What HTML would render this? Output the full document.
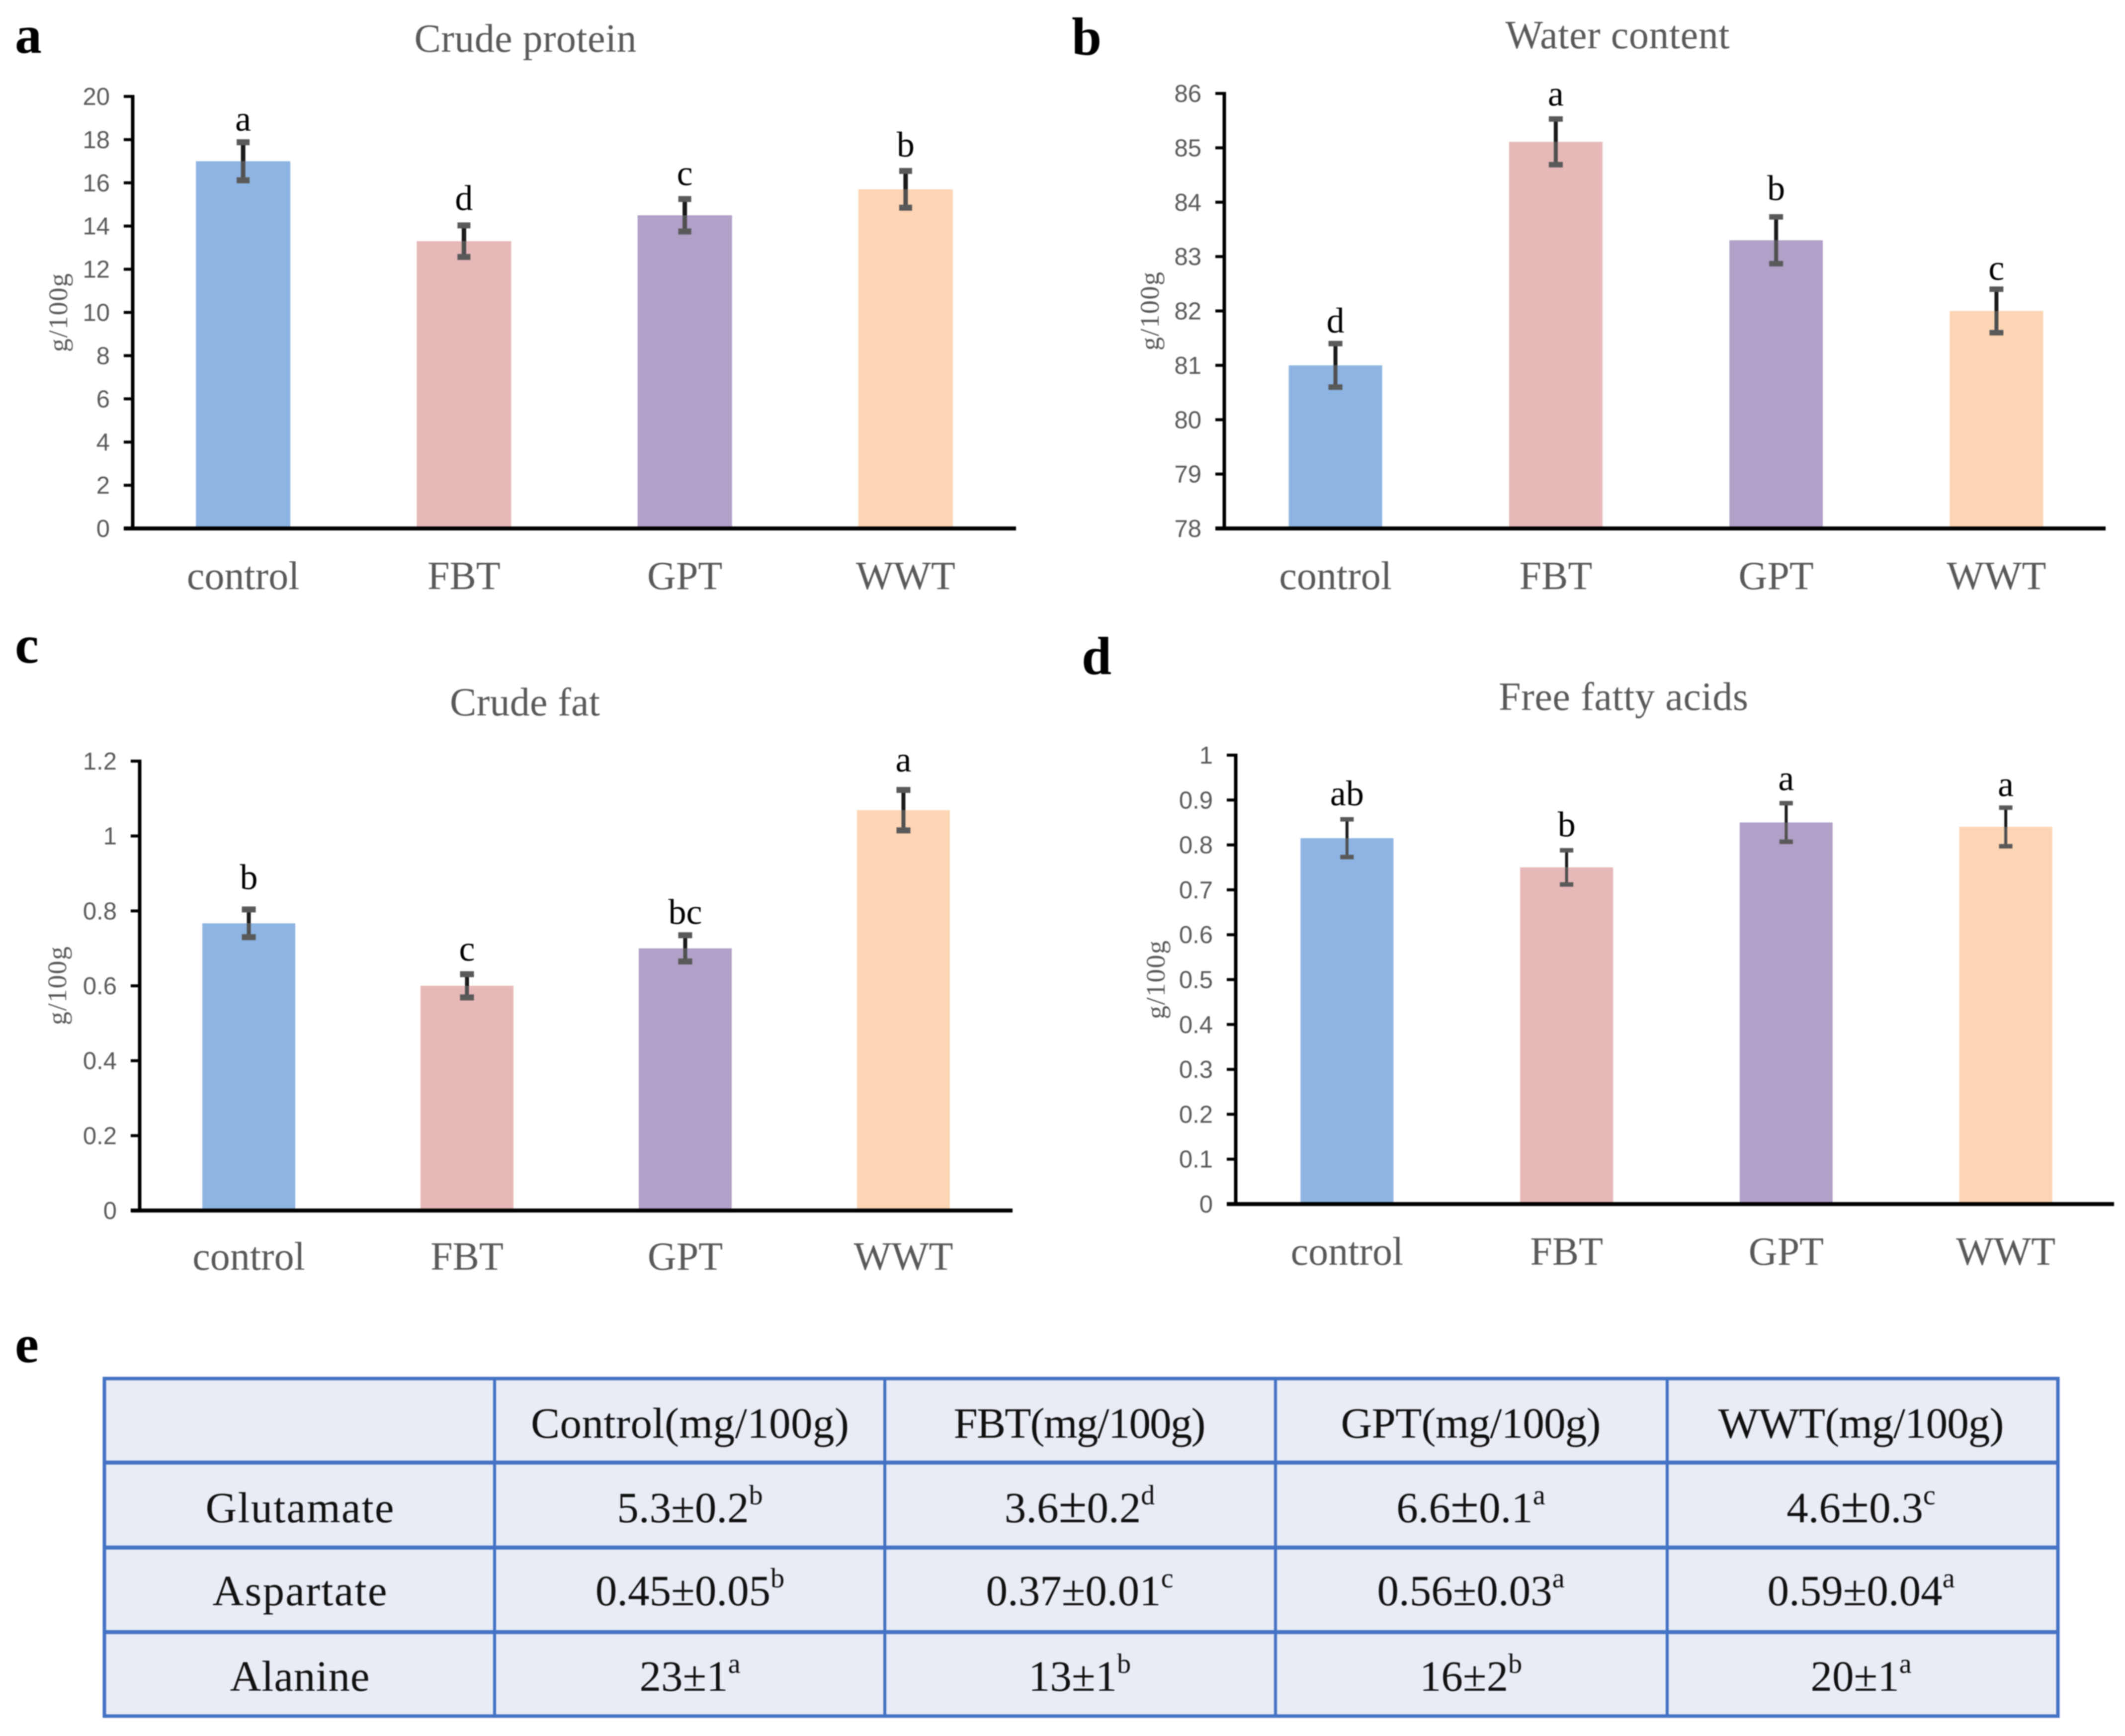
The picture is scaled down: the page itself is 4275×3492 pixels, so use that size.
<!DOCTYPE html>
<html lang="en">
<head>
<meta charset="utf-8">
<title>Meat composition panels</title>
<style>
  html, body { margin: 0; padding: 0; background: #fff; }
  svg { display: block; filter: blur(1px); }
  .serif { font-family: "Liberation Serif", "Times New Roman", serif; }
  .sans { font-family: "Liberation Sans", Arial, sans-serif; }
  .title { font-size: 80px; fill: #595959; text-anchor: middle; }
  .panel-letter { font-size: 108px; font-weight: bold; fill: #000; }
  .cell { font-size: 87px; fill: #111; text-anchor: middle; }
  .sup { font-size: 56px; }
</style>
</head>
<body>
<svg id="figure" xmlns="http://www.w3.org/2000/svg" width="4275" height="3492" viewBox="0 0 4275 3492" class="serif">
  <rect width="4275" height="3492" fill="#fff"/>

  <text class="panel-letter" x="30" y="106">a</text>
  <text class="panel-letter" x="2156" y="110">b</text>
  <text class="panel-letter" x="30" y="1333">c</text>
  <text class="panel-letter" x="2176" y="1356">d</text>
  <text class="panel-letter" x="30" y="2740">e</text>

  <text class="title" x="1057" y="104" textLength="447">Crude protein</text>
  <text class="title" x="3254" y="97" textLength="451">Water content</text>
  <text class="title" x="1056" y="1439" textLength="302">Crude fat</text>
  <text class="title" x="3266" y="1428" textLength="502">Free fatty acids</text>

  <g id="panel-a"></g>
  <g id="panel-b"></g>
  <g id="panel-c"></g>
  <g id="panel-d"></g>

  <g>
    <rect x="210" y="2773" width="3930" height="679" fill="#E9EBF5"/>
    <g stroke="#4472C4" fill="none">
      <rect x="210" y="2773" width="3930" height="679" stroke-width="7"/>
      <line x1="210" y1="2942" x2="4140" y2="2942" stroke-width="8"/>
      <line x1="210" y1="3113" x2="4140" y2="3113" stroke-width="8"/>
      <line x1="210" y1="3283" x2="4140" y2="3283" stroke-width="8"/>
      <line x1="995" y1="2773" x2="995" y2="3452" stroke-width="6"/>
      <line x1="1780" y1="2773" x2="1780" y2="3452" stroke-width="6"/>
      <line x1="2566" y1="2773" x2="2566" y2="3452" stroke-width="6"/>
      <line x1="3354" y1="2773" x2="3354" y2="3452" stroke-width="6"/>
    </g>
    <text class="cell" x="1388" y="2892" textLength="640">Control(mg/100g)</text>
    <text class="cell" x="2172" y="2892" textLength="507">FBT(mg/100g)</text>
    <text class="cell" x="2959" y="2892" textLength="523">GPT(mg/100g)</text>
    <text class="cell" x="3744" y="2892" textLength="575">WWT(mg/100g)</text>

    <text class="cell" x="603" y="3062" textLength="379">Glutamate</text>
    <text class="cell" x="1388" y="3062">5.3±0.2<tspan class="sup" dy="-36">b</tspan></text>
    <text class="cell" x="2172" y="3062">3.6<tspan font-size="104">±</tspan>0.2<tspan class="sup" dy="-36">d</tspan></text>
    <text class="cell" x="2959" y="3062">6.6<tspan font-size="104">±</tspan>0.1<tspan class="sup" dy="-36">a</tspan></text>
    <text class="cell" x="3744" y="3062">4.6<tspan font-size="104">±</tspan>0.3<tspan class="sup" dy="-36">c</tspan></text>

    <text class="cell" x="603" y="3229" textLength="351">Aspartate</text>
    <text class="cell" x="1388" y="3229">0.45±0.05<tspan class="sup" dy="-36">b</tspan></text>
    <text class="cell" x="2172" y="3229">0.37±0.01<tspan class="sup" dy="-36">c</tspan></text>
    <text class="cell" x="2959" y="3229">0.56±0.03<tspan class="sup" dy="-36">a</tspan></text>
    <text class="cell" x="3744" y="3229">0.59±0.04<tspan class="sup" dy="-36">a</tspan></text>

    <text class="cell" x="603" y="3401" textLength="281">Alanine</text>
    <text class="cell" x="1388" y="3401">23±1<tspan class="sup" dy="-36">a</tspan></text>
    <text class="cell" x="2172" y="3401">13±1<tspan class="sup" dy="-36">b</tspan></text>
    <text class="cell" x="2959" y="3401">16±2<tspan class="sup" dy="-36">b</tspan></text>
    <text class="cell" x="3744" y="3401">20±1<tspan class="sup" dy="-36">a</tspan></text>
  </g>
</svg>

<script>
const categories = ['control', 'FBT', 'GPT', 'WWT'];
const barColors = ['#8DB4E2', '#E6B8B7', '#B1A0C7', '#FCD5B4'];

const proteinValues = [17, 13.3, 14.5, 15.7];
const proteinErrors = [0.88, 0.73, 0.75, 0.85];
const proteinLetters = ['a', 'd', 'c', 'b'];
const proteinTicks = ['0', '2', '4', '6', '8', '10', '12', '14', '16', '18', '20'];

const waterValues = [81, 85.11, 83.3, 82];
const waterErrors = [0.4, 0.42, 0.43, 0.4];
const waterLetters = ['d', 'a', 'b', 'c'];
const waterTicks = ['78', '79', '80', '81', '82', '83', '84', '85', '86'];

const fatValues = [0.767, 0.6, 0.7, 1.069];
const fatErrors = [0.037, 0.031, 0.035, 0.054];
const fatLetters = ['b', 'c', 'bc', 'a'];
const fatTicks = ['0', '0.2', '0.4', '0.6', '0.8', '1', '1.2'];

const acidValues = [0.815, 0.75, 0.85, 0.84];
const acidErrors = [0.042, 0.038, 0.043, 0.043];
const acidLetters = ['ab', 'b', 'a', 'a'];
const acidTicks = ['0', '0.1', '0.2', '0.3', '0.4', '0.5', '0.6', '0.7', '0.8', '0.9', '1'];

const NS = 'http://www.w3.org/2000/svg';

function make(tag, attrs, parent, content) {
  const node = document.createElementNS(NS, tag);
  Object.keys(attrs).forEach(function (k) { node.setAttribute(k, attrs[k]); });
  if (content !== undefined) node.textContent = content;
  parent.appendChild(node);
  return node;
}

function drawPanel(id, frame, values, errors, letters, ticks) {
  const root = document.getElementById(id);
  const nums = ticks.map(Number);
  const lo = nums[0];
  const hi = nums[nums.length - 1];
  const yScale = function (v) { return frame.yBottom - (v - lo) / (hi - lo) * (frame.yBottom - frame.yTop); };
  const step = (frame.xRight - frame.xLeft) / categories.length;
  const xScale = function (i) { return frame.xLeft + frame.catShift + step * (i + 0.5); };

  categories.forEach(function (cat, i) {
    const cx = xScale(i);
    const top = yScale(values[i]);

    const bar = make('rect', { x: cx - frame.barWidth / 2, y: top, width: frame.barWidth, height: frame.yBottom - top, fill: barColors[i] }, root);
    
    

    const errTop = yScale(values[i] + errors[i]);
    const errBottom = yScale(values[i] - errors[i]);

    const errorGroup = make('g', {}, root);
    
    
    make('line', { x1: cx, x2: cx, y1: errTop, y2: top, stroke: '#1a1a1a', 'stroke-width': frame.stemWidth }, errorGroup);
    make('line', { x1: cx, x2: cx, y1: top, y2: errBottom, stroke: '#505050', 'stroke-width': frame.stemWidth }, errorGroup);
    make('line', { x1: cx - frame.capWidth / 2, x2: cx + frame.capWidth / 2, y1: errTop, y2: errTop, stroke: '#595959', 'stroke-width': frame.capHeight }, errorGroup);
    make('line', { x1: cx - frame.capWidth / 2, x2: cx + frame.capWidth / 2, y1: errBottom, y2: errBottom, stroke: '#595959', 'stroke-width': frame.capHeight }, errorGroup);

    const letter = make('text', { x: cx, y: errTop - frame.letterGaps[i], 'font-size': 72, fill: '#000', 'text-anchor': 'middle' }, root, letters[i]);
    
    

    const catLabel = make('text', { x: cx, y: frame.labelBaseline, 'font-size': 80, fill: '#595959', 'text-anchor': 'middle' }, root, cat);
    
    
  });

  const yAxis = make('line', { x1: frame.xLeft, x2: frame.xLeft, y1: frame.yTop - 3, y2: frame.yBottom + 3, stroke: '#000', 'stroke-width': 7 }, root);
  
  

  const xAxis = make('line', { x1: frame.xLeft - 18, x2: frame.xRight, y1: frame.yBottom, y2: frame.yBottom, stroke: '#000', 'stroke-width': 8 }, root);
  
  

  ticks.forEach(function (t, i) {
    const ty = yScale(nums[i]);
    const mark = make('line', { x1: frame.xLeft - 18, x2: frame.xLeft, y1: ty, y2: ty, stroke: '#000', 'stroke-width': 6 }, root);
    
    

    const tickLabel = make('text', { x: frame.xLeft - 46, y: ty + 17, 'font-size': 49, fill: '#595959', 'text-anchor': 'end', 'class': 'sans' }, root, t);
    
    
  });

  const yTitle = make('text', {
    x: 0, y: 0, 'font-size': 54, fill: '#595959', 'text-anchor': 'middle',
    textLength: 158,
    transform: 'translate(' + frame.yTitleX + ',' + frame.yTitleY + ') rotate(-90)'
  }, root, 'g/100g');
  
  
}

drawPanel('panel-a', { xLeft: 267, xRight: 2044, yTop: 194, yBottom: 1063, catShift: 0, barWidth: 190, capWidth: 26, capHeight: 12, stemWidth: 9, letterGaps: [23, 31, 28, 29], labelBaseline: 1185, yTitleX: 135, yTitleY: 629 }, proteinValues, proteinErrors, proteinLetters, proteinTicks);
drawPanel('panel-b', { xLeft: 2463, xRight: 4236, yTop: 188, yBottom: 1063, catShift: 2, barWidth: 188, capWidth: 28, capHeight: 11, stemWidth: 8, letterGaps: [22, 27, 34, 19], labelBaseline: 1185, yTitleX: 2331, yTitleY: 626 }, waterValues, waterErrors, waterLetters, waterTicks);
drawPanel('panel-c', { xLeft: 281, xRight: 2037, yTop: 1531, yBottom: 2435, catShift: 0, barWidth: 187, capWidth: 28, capHeight: 12, stemWidth: 8, letterGaps: [41, 27, 23, 37], labelBaseline: 2554, yTitleX: 133, yTitleY: 1983 }, fatValues, fatErrors, fatLetters, fatTicks);
drawPanel('panel-d', { xLeft: 2486, xRight: 4253, yTop: 1519, yBottom: 2422, catShift: 3, barWidth: 187, capWidth: 27, capHeight: 9, stemWidth: 6, letterGaps: [28, 28, 26, 23], labelBaseline: 2544, yTitleX: 2343, yTitleY: 1971 }, acidValues, acidErrors, acidLetters, acidTicks);
</script>
</body>
</html>
